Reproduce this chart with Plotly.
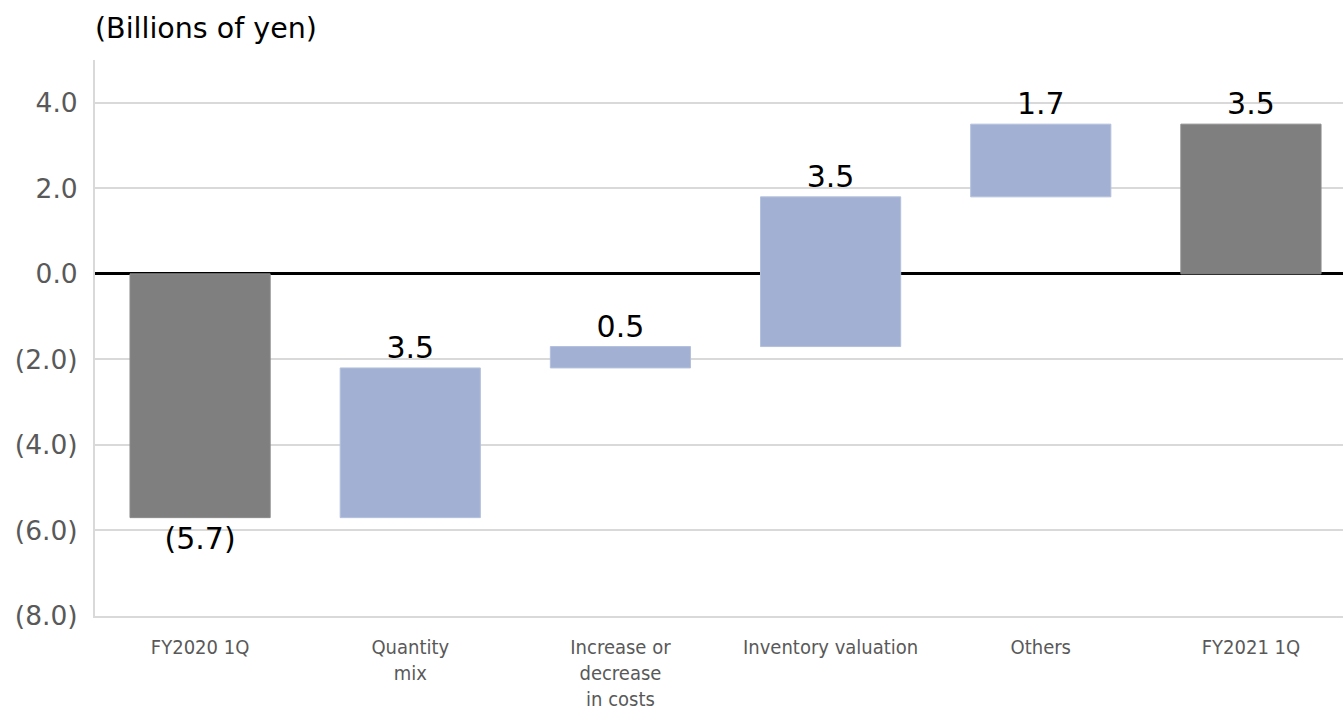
import plotly.graph_objects as go

# Operating income bridge, billions of yen
categories = ["FY2020 1Q", "Quantity<br>mix", "Increase or<br>decrease<br>in costs",
              "Inventory valuation", "Others", "FY2021 1Q"]
values = [-5.7, 3.5, 0.5, 3.5, 1.7, 3.5]
measures = ["absolute", "relative", "relative", "relative", "relative", "total"]

y_tickvals = [4, 2, 0, -2, -4, -6, -8]
y_ticktext = ["4.0", "2.0", "0.0", "(2.0)", "(4.0)", "(6.0)", "(8.0)"]


def fmt(v):
    return f"({abs(v):.1f})" if v < 0 else f"{v:.1f}"


labels = [fmt(v) for v in values]

fig = go.Figure(go.Waterfall(
    x=categories,
    y=values,
    measure=measures,
    text=labels,
    textposition="outside",
    textfont=dict(family="DejaVu Sans", size=30, color="#000000"),
    totals=dict(marker=dict(color="#7f7f7f", line=dict(color="#8c8c8c", width=1))),
    increasing=dict(marker=dict(color="#a2b1d3", line=dict(color="#b4c1dc", width=1))),
    decreasing=dict(marker=dict(color="#a2b1d3")),
    connector=dict(visible=False),
    width=0.667,
    cliponaxis=False,
))

fig.update_layout(
    width=1343, height=713,
    margin=dict(l=95, r=0, t=60, b=97, autoexpand=False),
    paper_bgcolor="white", plot_bgcolor="white",
    showlegend=False,
    xaxis=dict(
        range=[-0.5, 5.438],
        automargin=False,
        showgrid=False,
        showline=True, linecolor="#d9d9d9", linewidth=2,
        zeroline=False,
        ticks="outside", ticklen=12, tickcolor="rgba(0,0,0,0)",
        tickfont=dict(family="DejaVu Sans Condensed", size=20, color="#595959"),
        tickangle=0,
    ),
    yaxis=dict(
        range=[-8, 5],
        automargin=False,
        tickvals=y_tickvals, ticktext=y_ticktext,
        tickfont=dict(family="DejaVu Sans", size=26.5, color="#595959"),
        showgrid=True, gridcolor="#d9d9d9", gridwidth=1.5,
        showline=True, linecolor="#d9d9d9", linewidth=2,
        zeroline=True, zerolinecolor="#000000", zerolinewidth=3,
        ticks="outside", ticklen=10, tickcolor="rgba(0,0,0,0)",
    ),
    annotations=[dict(
        text="(Billions of yen)", xref="paper", yref="paper",
        x=0, y=1, xshift=-2, yshift=32, xanchor="left", yanchor="middle",
        showarrow=False,
        font=dict(family="DejaVu Sans", size=28.5, color="#000000"),
    )],
)

fig.write_html("out.html")
